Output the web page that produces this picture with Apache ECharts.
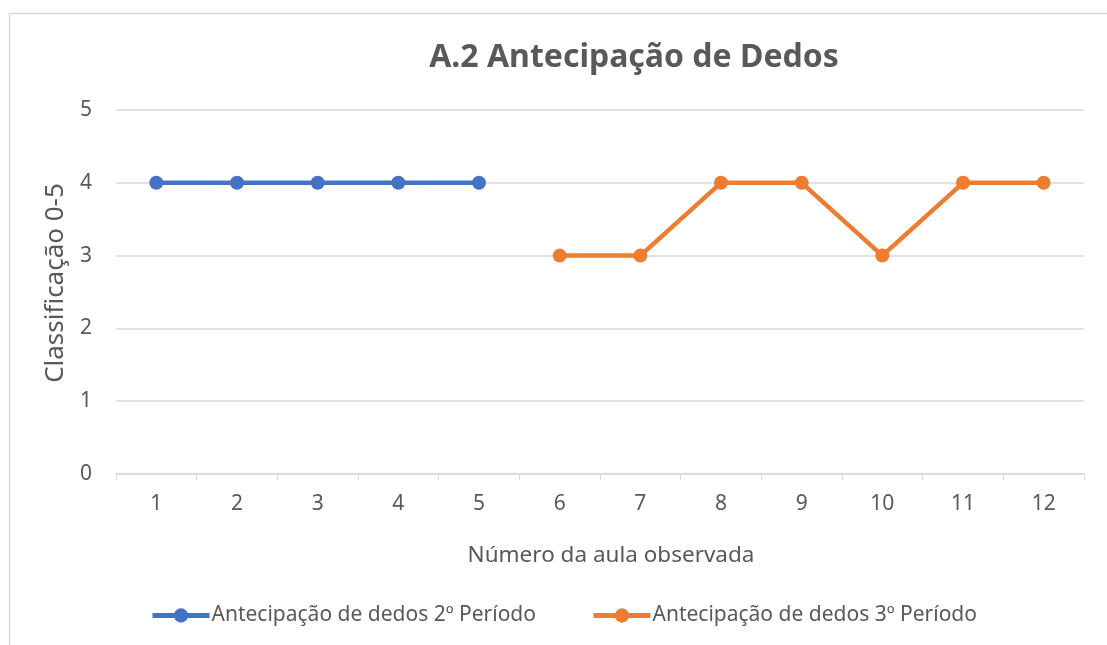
<!DOCTYPE html>
<html>
<head>
<meta charset="utf-8">
<script src="https://cdn.jsdelivr.net/npm/echarts@6/dist/echarts.min.js"></script>
<style>
	html, body { margin: 0; padding: 0; background: #fff; }
	#chart { width: 1107px; height: 645px; }
</style>
</head>
<body>
<div id="chart"></div>
<script>
// dados
var aulas = ['1','2','3','4','5','6','7','8','9','10','11','12'];
var periodo2 = [4, 4, 4, 4, 4, null, null, null, null, null, null, null];
var periodo3 = [null, null, null, null, null, 3, 3, 4, 4, 3, 4, 4];
var nomes = ['Antecipação de dedos 2º Período', 'Antecipação de dedos 3º Período'];

var fonte = '"Noto Sans", "Open Sans", sans-serif';
var cinza = '#595959';

var myChart = echarts.init(document.getElementById('chart'));
var option = {
	color: ['#4472C4', '#ED7D31'],
	textStyle: { fontFamily: fonte },
	title: {
		text: 'A.2 Antecipação de Dedos',
		left: 629,
		textAlign: 'center',
		top: 37,
		textStyle: { fontSize: 32, fontWeight: 'bold', color: cinza, fontFamily: fonte }
	},
	graphic: [
		{ type: 'rect', left: 7, top: 11, shape: { width: 1120, height: 660 },
		  style: { fill: 'none', stroke: '#d9d9d9', lineWidth: 1.5 }, silent: true }
	],
	legend: {
		left: 145,
		top: 600,
		itemGap: 55,
		itemWidth: 57,
		itemHeight: 18,
		lineStyle: { width: 5 },
		textStyle: { fontSize: 21, color: cinza, fontFamily: fonte, padding: [0, 0, 0, -3] },
		data: nomes
	},
	grid: { left: 116, right: 23, top: 110, bottom: 171 },
	xAxis: {
		type: 'category',
		boundaryGap: true,
		data: aulas,
		name: 'Número da aula observada',
		nameLocation: 'middle',
		nameGap: 70,
		nameTextStyle: { fontSize: 22.5, color: cinza, fontFamily: fonte, padding: [0, 0, 0, 22] },
		axisLine: { lineStyle: { color: '#d9d9d9', width: 1.5 } },
		axisTick: { show: true, length: 6, lineStyle: { color: '#d9d9d9' } },
		axisLabel: { fontSize: 21, color: cinza, margin: 20, fontFamily: fonte }
	},
	yAxis: {
		type: 'value',
		min: 0, max: 5, interval: 1,
		name: 'Classificação 0-5',
		nameLocation: 'middle',
		nameGap: 43,
		nameTextStyle: { fontSize: 26, color: cinza, fontFamily: fonte, padding: [0, 0, 0, 18] },
		axisLine: { show: false },
		axisTick: { show: false },
		axisLabel: { fontSize: 21, color: cinza, margin: 24, fontFamily: fonte },
		splitLine: { lineStyle: { color: '#d9d9d9', width: 1.5 } }
	},
	series: [
		{ name: nomes[0], type: 'line', data: periodo2, symbol: 'circle', symbolSize: 14,
		  lineStyle: { width: 4.5 }, connectNulls: false },
		{ name: nomes[1], type: 'line', data: periodo3, symbol: 'circle', symbolSize: 14,
		  lineStyle: { width: 4.5 }, connectNulls: false }
	]
};
myChart.setOption(option);
</script>
</body>
</html>
